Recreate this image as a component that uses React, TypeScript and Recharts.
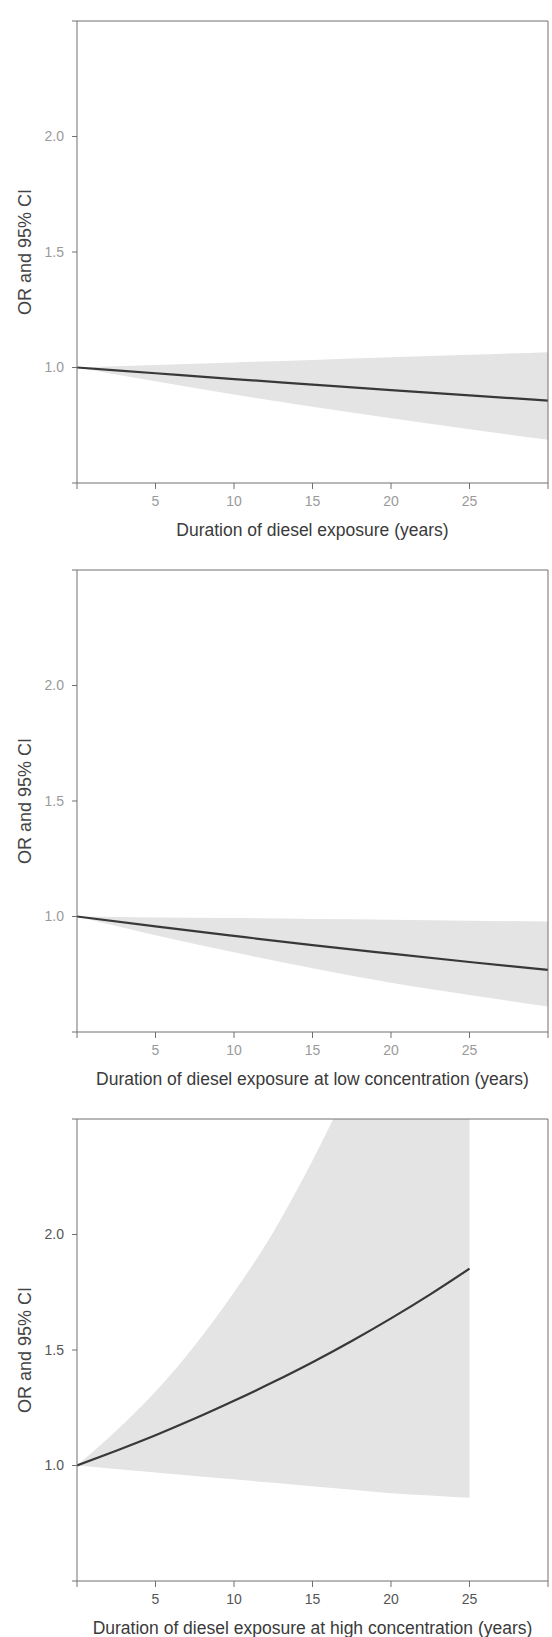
import React from "react";
import { ComposedChart, Area, Line, XAxis, YAxis, Label, ReferenceLine } from "recharts";

// years of exposure
const X_YEARS = [0, 5, 10, 15, 20, 25, 30];
const X_YEARS_HIGH = [0, 2.5, 5, 7.5, 10, 12.5, 15, 17.5, 20, 22.5, 25];

// panel 1: any diesel exposure
const TOTAL_OR = [1.0, 0.975, 0.95, 0.926, 0.902, 0.879, 0.857];
const TOTAL_LO = [1.0, 0.94, 0.883, 0.83, 0.78, 0.733, 0.687];
const TOTAL_HI = [1.0, 1.011, 1.022, 1.033, 1.044, 1.055, 1.066];

// panel 2: low concentration
const LOW_OR = [1.0, 0.957, 0.916, 0.876, 0.839, 0.803, 0.769];
const LOW_LO = [1.0, 0.919, 0.845, 0.776, 0.713, 0.66, 0.61];
const LOW_HI = [1.0, 0.996, 0.993, 0.989, 0.986, 0.982, 0.978];

// panel 3: high concentration
const HIGH_OR = [1.0, 1.064, 1.131, 1.203, 1.28, 1.361, 1.447, 1.539, 1.637, 1.741, 1.852];
const HIGH_LO = [1.0, 0.985, 0.97, 0.955, 0.94, 0.925, 0.91, 0.895, 0.88, 0.87, 0.86];
const HIGH_HI = [1.0, 1.15, 1.32, 1.52, 1.75, 2.01, 2.32, 2.67, 3.07, 3.54, 4.07];

const X_TICKS = [0, 5, 10, 15, 20, 25, 30];
const Y_TICKS = [0.5, 1.0, 1.5, 2.0, 2.5];
const Y_TITLE = "OR and 95% CI";

const FONT = "'Liberation Sans', Arial, Helvetica, sans-serif";
const AXIS = "#707070";

const build = (xs: number[], or: number[], lo: number[], hi: number[]) =>
  xs.map((x, i) => ({ x, or: or[i], band: [lo[i], hi[i]] }));

const xTitle = (text: string) => (props: any) => {
  const vb = props.viewBox || {};
  return (
    <text
      x={vb.x + vb.width / 2}
      y={vb.y + 47}
      textAnchor="middle"
      dominantBaseline="central"
      fontSize={17.5}
      fill="#3a3a3a"
      fontFamily={FONT}
    >
      {text}
    </text>
  );
};

const yTitle = (props: any) => {
  const vb = props.viewBox || {};
  const cy = vb.y + vb.height / 2;
  return (
    <text
      x={25}
      y={cy}
      transform={`rotate(-90, 25, ${cy})`}
      textAnchor="middle"
      dominantBaseline="central"
      fontSize={18}
      fill="#444"
      fontFamily={FONT}
    >
      {Y_TITLE}
    </text>
  );
};

interface PanelProps {
  data: { x: number; or: number; band: number[] }[];
  title: string;
  tickColor: string;
  height: number;
}

const Panel: React.FC<PanelProps> = ({ data, title, tickColor, height }) => (
  <ComposedChart
    width={552}
    height={height}
    data={data}
    margin={{ top: 21, right: 4, bottom: 0, left: 0 }}
    style={{ overflow: "visible" }}
  >
    <XAxis
      dataKey="x"
      type="number"
      domain={[0, 30]}
      ticks={X_TICKS}
      interval={0}
      allowDataOverflow
      height={height - 21 - 462}
      tickFormatter={(v) => (v === 0 || v === 30 ? "" : String(v))}
      tick={{ fill: tickColor, fontSize: 14, fontFamily: FONT }}
      tickSize={6}
      tickMargin={7}
      axisLine={{ stroke: AXIS }}
      tickLine={{ stroke: AXIS }}
    >
      <Label content={xTitle(title)} />
    </XAxis>
    <YAxis
      type="number"
      domain={[0.5, 2.5]}
      ticks={Y_TICKS}
      interval={0}
      allowDataOverflow
      width={77}
      tickFormatter={(v) => (v === 0.5 || v === 2.5 ? "" : v.toFixed(1))}
      tick={{ fill: tickColor, fontSize: 14, fontFamily: FONT }}
      tickSize={5}
      tickMargin={8}
      axisLine={{ stroke: AXIS }}
      tickLine={{ stroke: AXIS }}
    >
      <Label content={yTitle} />
    </YAxis>
    <Area
      dataKey="band"
      type="monotone"
      stroke="none"
      fill="#e4e4e4"
      fillOpacity={1}
      isAnimationActive={false}
      activeDot={false}
    />
    <Line
      dataKey="or"
      type="monotone"
      stroke="#383838"
      strokeWidth={2.2}
      dot={false}
      activeDot={false}
      isAnimationActive={false}
    />
    {/* frame: top and right edges */}
    <ReferenceLine y={2.5} stroke={AXIS} strokeWidth={1} />
    <ReferenceLine x={30} stroke={AXIS} strokeWidth={1} />
  </ComposedChart>
);

export default function App() {
  return (
    <div
      style={{
        position: "absolute",
        left: 0,
        top: 0,
        width: 552,
        height: 1637,
        background: "#fff",
        overflow: "hidden",
      }}
    >
      <Panel
        data={build(X_YEARS, TOTAL_OR, TOTAL_LO, TOTAL_HI)}
        title="Duration of diesel exposure (years)"
        tickColor="#9a9a9a"
        height={549}
      />
      <Panel
        data={build(X_YEARS, LOW_OR, LOW_LO, LOW_HI)}
        title="Duration of diesel exposure at low concentration (years)"
        tickColor="#9a9a9a"
        height={549}
      />
      <Panel
        data={build(X_YEARS_HIGH, HIGH_OR, HIGH_LO, HIGH_HI)}
        title="Duration of diesel exposure at high concentration (years)"
        tickColor="#555"
        height={539}
      />
    </div>
  );
}
